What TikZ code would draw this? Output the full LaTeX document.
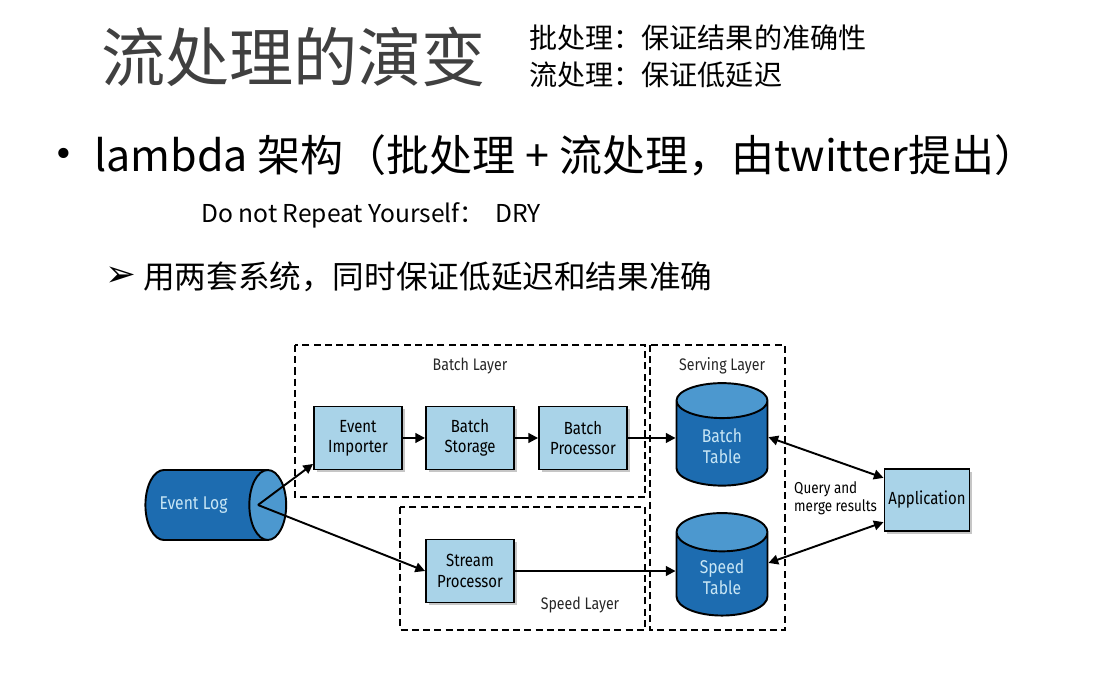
\documentclass[tikz,border=0pt]{standalone}
\usepackage{fontspec}
\setmainfont{Noto Sans CJK SC}
\newfontfamily\diagfont[FakeStretch=0.85]{Fira Sans}
\newfontfamily\symfont{DejaVu Sans}
\usetikzlibrary{arrows.meta,positioning,shapes.geometric,shadows}
\definecolor{boxblue}{HTML}{A9D3E8}
\definecolor{cyldark}{HTML}{1D6CB0}
\definecolor{cyllight}{HTML}{4C98CF}
\definecolor{cyltext}{HTML}{C8E6F5}
\definecolor{titlegrey}{HTML}{404040}

\begin{document}
\begin{tikzpicture}[
    x=0.02cm,
    y=-0.02cm,
    >={Triangle[length=5.5pt,width=5.5pt]},
    proc/.style={
        rectangle,
        draw,
        line width=1.1pt,
        fill=boxblue,
        minimum width=1.76cm,
        minimum height=1.26cm,
        inner sep=1pt,
        align=center,
        font=\diagfont\fontsize{10}{11.5}\selectfont,
        drop shadow={shadow xshift=1.5pt, shadow yshift=-1.5pt, opacity=0.45}
    },
    table/.style={
        cylinder,
        shape border rotate=90,
        aspect=0.8,
        draw,
        line width=1.1pt,
        cylinder uses custom fill,
        cylinder body fill=cyldark,
        cylinder end fill=cyllight,
        minimum width=1.82cm,
        minimum height=2.05cm,
        inner sep=1pt,
        align=center,
        text=cyltext,
        font=\diagfont\fontsize{10.5}{12}\selectfont
    },
    layer/.style={
        draw,
        line width=1.2pt,
        dash pattern=on 4pt off 2.4pt
    },
    layertitre/.style={
        font=\diagfont\fontsize{9.5}{10}\selectfont,
        text=black!85
    },
    fleche/.style={
        ->,
        line width=1.1pt
    },
    flechedouble/.style={
        <->,
        line width=1.1pt
    }
]
\useasboundingbox (0,0) rectangle (1118,688);

% Slide heading
\node[anchor=west, text=titlegrey, font=\fontsize{36.5}{42}\selectfont] (titre) at (95,57) {流处理的演变};
\node[anchor=west, font=\fontsize{16}{18}\selectfont] (note1) at (523,38) {批处理：保证结果的准确性};
\node[anchor=west, font=\fontsize{16}{18}\selectfont] (note2) at (523,75) {流处理：保证低延迟};

% Bullet points
\node[font=\symfont\fontsize{20}{24}\selectfont] (puce) at (64,157) {•};
\node[anchor=west, font=\fontsize{24.5}{28}\selectfont] (lambda) at (88,155) {lambda 架构（批处理 + 流处理，由twitter提出）};
\node[anchor=west, font=\fontsize{14}{16}\selectfont] (dry) at (195,215) {Do not Repeat Yourself：\ \ DRY};
\node[font=\symfont\fontsize{21}{24}\selectfont] (fleche) at (121,277) {➢};
\node[anchor=west, font=\fontsize{18}{20}\selectfont] (systemes) at (137,277) {用两套系统，同时保证低延迟和结果准确};

% Layers
\draw[layer] (295,345) rectangle (645,497);
\draw[layer] (400,507) rectangle (645,630);
\draw[layer] (650,345) rectangle (785,630);
\node[layertitre] (batchlayer) at (470,366) {Batch Layer};
\node[layertitre] (speedlayer) at (580,605) {Speed Layer};
\node[layertitre] (servinglayer) at (722,366) {Serving Layer};

% Event log
\node[cylinder, aspect=1.3, draw, line width=1.1pt, cylinder uses custom fill,
      cylinder body fill=cyldark, cylinder end fill=cyllight,
      minimum width=1.4cm, minimum height=1.62cm, text=cyltext,
      font=\diagfont\fontsize{10.5}{12}\selectfont] (log) at (201,505) {Event Log\hspace*{0.3cm}};
\coordinate (logpt) at (258,505);

% Processing boxes
\node[proc] (imp) at (358,438) {Event\\Importer};
\node[proc] (stock) at (470,438) {Batch\\Storage};
\node[proc] (batchproc) at (583,438) {Batch\\Processor};
\node[proc] (streamproc) at (470,571) {Stream\\Processor};
\node[proc, minimum width=1.7cm, minimum height=1.24cm] (app) at (927,500) {Application};

% Tables
\node[table] (batchtable) at (722,446) {Batch\\Table};
\node[table] (speedtable) at (722,577) {Speed\\Table};

% Connections
\draw[fleche] (logpt) -- (imp.210);
\draw[fleche] (logpt) -- (streamproc.west);
\draw[fleche] (imp) -- (stock);
\draw[fleche] (stock) -- (batchproc);
\draw[fleche] (batchproc) -- (batchproc -| batchtable.west);
\draw[fleche] (streamproc) -- (streamproc -| speedtable.west);
\draw[flechedouble] ([yshift=5pt]batchtable.east) -- (app.153);
\draw[flechedouble] ([yshift=8pt]speedtable.east) -- (app.207);

\node[anchor=west, align=left, font=\diagfont\fontsize{9}{10.5}\selectfont] (requete) at (788,498) {Query and\\merge results};

\end{tikzpicture}
\end{document}
